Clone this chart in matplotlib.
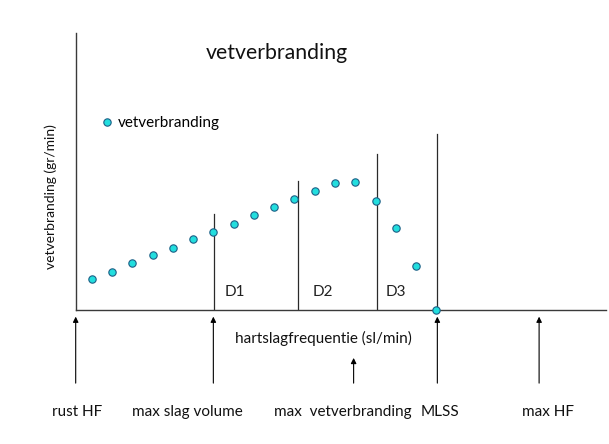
import matplotlib
matplotlib.use("Agg")
import matplotlib.pyplot as plt

# ---- data ----
x_points = list(range(1, 19))
fat_burn = [11.2, 13.8, 16.9, 19.7, 22.5, 25.5, 28.3, 31.0, 34.2, 37.2,
            40.2, 43.0, 45.8, 46.3, 39.4, 29.6, 16.0, 0.0]
zone_x = [7.02, 11.19, 15.06, 18.05]
zone_top = [34.5, 46.6, 56.3, 63.5]
zone_labels = ["D1", "D2", "D3"]
zone_label_x = [8.07, 12.4, 16.0]
marker_x = [0.21, 7.0, 13.92, 18.05, 23.07]
marker_len = [24.0, 24.0, 9.1, 24.0, 24.0]
marker_labels = ["rust HF", "max slag volume", "max  vetverbranding", "MLSS", "max HF"]
marker_label_x = [0.26, 5.74, 13.4, 18.2, 23.5]
title = "vetverbranding"
xlabel = "hartslagfrequentie (sl/min)"
ylabel = "vetverbranding (gr/min)"
legend_label = "vetverbranding"

FONT = ["Lato", "DejaVu Sans"]
plt.rcParams["font.family"] = FONT

W, H = 609, 444
fig = plt.figure(figsize=(W / 100, H / 100), dpi=100)
L, R, T, B = 75.7, 606, 33, 310
ax = fig.add_axes([L / W, 1 - B / H, (R - L) / W, (B - T) / H])
ax.set_xlim(0.21, 26.37)
ax.set_ylim(0, 100)
for s in ["top", "right"]:
    ax.spines[s].set_visible(False)
for s in ["left", "bottom"]:
    ax.spines[s].set_color("#3a3a3a")
    ax.spines[s].set_linewidth(1.0)
ax.set_xticks([])
ax.set_yticks([])

line_col = "#2a2a2a"
for zx, zt in zip(zone_x, zone_top):
    ax.plot([zx, zx], [0, zt], color=line_col, lw=0.9, zorder=2)

mfc = "#22dede"
mec = "#1c5f86"
ax.plot(x_points, fat_burn, linestyle="none", marker="o", markersize=5.3,
        markerfacecolor=mfc, markeredgecolor=mec, markeredgewidth=0.8,
        zorder=5, clip_on=False, label=legend_label)

FS = 11
for lab, lx in zip(zone_labels, zone_label_x):
    ax.text(lx, 6.5, lab, ha="center", va="center", fontsize=FS, color="#222222")

# arrows below the axis
tail_y = -26.4
for mx, ml in zip(marker_x, marker_len):
    ax.annotate("", xy=(mx, tail_y + ml), xytext=(mx, tail_y),
                arrowprops=dict(arrowstyle="-|>", lw=0.8, color="black",
                                mutation_scale=8, shrinkA=0, shrinkB=0),
                annotation_clip=False)
for lab, lx in zip(marker_labels, marker_label_x):
    ax.text(lx, -36.8, lab, ha="center", va="center", fontsize=FS, color="#111111",
            clip_on=False)

ax.text(12.44, -10.1, xlabel, ha="center", va="center", fontsize=FS, color="#111111",
        clip_on=False)
ax.text(-1.02, 41.0, ylabel, ha="center", va="center", rotation=90, fontsize=10,
        color="#111111", clip_on=False)
ax.text(10.13, 92.8, title, ha="center", va="center", fontsize=15.3, color="#111111")

ax.legend(loc="center left", bbox_to_anchor=(0.036, 0.675), frameon=False,
          handlelength=0.6, handletextpad=0.4, borderpad=0, fontsize=FS,
          markerscale=1.0)

fig.savefig("out.png", dpi=100)
